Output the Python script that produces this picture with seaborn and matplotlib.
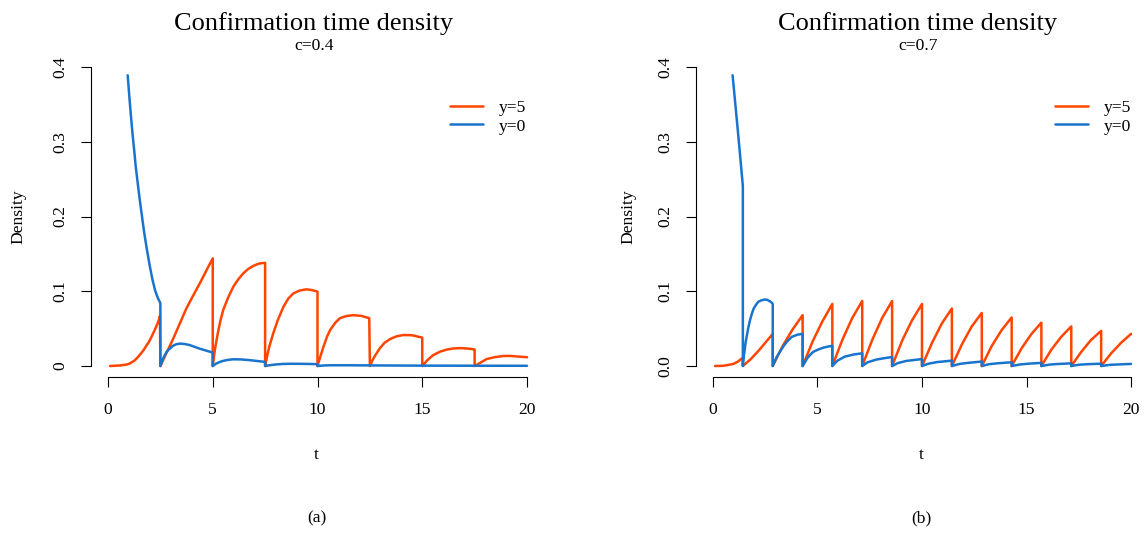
import pandas as pd
import numpy as np
import matplotlib.pyplot as plt
import seaborn as sns

# ---- panel (a), c=0.4 ----
a_y5_t = [0.1, 0.6, 0.9, 1.05, 1.25, 1.4, 1.55, 1.69, 1.85, 1.95, 2.06, 2.16, 2.26, 2.35, 2.42, 2.48, 2.5,
          2.5, 2.8, 3.12, 3.43, 3.74, 4.06, 4.39, 4.7, 5.0, 5.0,
          5.0, 5.06, 5.12, 5.25, 5.37, 5.5, 5.74, 5.98, 6.22, 6.46, 6.7, 6.94, 7.2, 7.45, 7.5, 7.5,
          7.5, 7.6, 7.7, 7.89, 8.1, 8.37, 8.6, 8.84, 9.15, 9.48, 9.75, 10.0, 10.0,
          10.0, 10.15, 10.3, 10.45, 10.6, 10.85, 11.07, 11.4, 11.71, 12.1, 12.47, 12.5,
          12.5, 12.63, 12.75, 12.98, 13.2, 13.46, 13.75, 14.1, 14.5, 14.92, 15.0, 15.0,
          15.0, 15.25, 15.53, 15.85, 16.17, 16.5, 16.8, 17.1, 17.43, 17.5, 17.5,
          17.5, 17.75, 18.07, 18.45, 18.87, 19.2, 19.5, 20.0]
a_y5_d = [0.0, 0.0008, 0.002, 0.0035, 0.007, 0.011, 0.016, 0.021, 0.028, 0.032, 0.038, 0.044, 0.050, 0.056, 0.061, 0.067, 0.0,
          0.0, 0.018, 0.037, 0.057, 0.077, 0.094, 0.111, 0.128, 0.144, 0.0,
          0.0, 0.013, 0.025, 0.045, 0.061, 0.075, 0.092, 0.106, 0.116, 0.124, 0.130, 0.134, 0.137, 0.138, 0.138, 0.0,
          0.0, 0.014, 0.026, 0.044, 0.061, 0.079, 0.090, 0.097, 0.101, 0.1026, 0.1015, 0.0995, 0.0,
          0.0, 0.014, 0.027, 0.039, 0.048, 0.058, 0.064, 0.067, 0.068, 0.067, 0.064, 0.0,
          0.0, 0.008, 0.014, 0.024, 0.031, 0.036, 0.0395, 0.0415, 0.0412, 0.0385, 0.038, 0.0,
          0.0, 0.008, 0.0147, 0.0192, 0.022, 0.0235, 0.024, 0.0235, 0.0225, 0.022, 0.0,
          0.0, 0.004, 0.0093, 0.0118, 0.0134, 0.0135, 0.0128, 0.0118]

a_y0_t = [0.94, 1.02, 1.1, 1.18, 1.25, 1.32, 1.4, 1.5, 1.6, 1.72, 1.85, 2.0, 2.12, 2.25, 2.38, 2.5, 2.5,
          2.5, 2.6, 2.7, 2.8, 2.9, 3.1, 3.25, 3.44, 3.65, 3.9, 4.15, 4.4, 4.7, 5.0, 5.0,
          5.0, 5.15, 5.3, 5.45, 5.6, 5.8, 6.0, 6.35, 6.7, 7.1, 7.5, 7.5,
          7.5, 7.75, 8.0, 8.3, 8.7, 9.3, 10.0, 10.0,
          10.0, 10.3, 10.6, 11.5, 12.5, 15.0, 17.5, 20.0]
a_y0_d = [0.389, 0.36, 0.333, 0.308, 0.289, 0.268, 0.249, 0.226, 0.205, 0.18, 0.157, 0.133, 0.116, 0.101, 0.091, 0.084, 0.0,
          0.0, 0.008, 0.014, 0.019, 0.022, 0.027, 0.029, 0.030, 0.0295, 0.028, 0.0255, 0.023, 0.0205, 0.018, 0.0,
          0.0, 0.003, 0.005, 0.0065, 0.0075, 0.0085, 0.009, 0.0088, 0.008, 0.0068, 0.0055, 0.0,
          0.0, 0.0012, 0.002, 0.0027, 0.003, 0.0029, 0.0025, 0.0,
          0.0, 0.0007, 0.001, 0.001, 0.0008, 0.0005, 0.0004, 0.0003]

# ---- panel (b), c=0.7 ----
b_y5_t = [0.1, 0.5, 0.97, 1.2, 1.42, 1.43,
          1.43, 1.8, 2.2, 2.5, 2.86, 2.86,
          2.86, 3.34, 3.81, 4.29, 4.29,
          4.29, 4.77, 5.24, 5.71, 5.71,
          5.71, 6.19, 6.66, 7.14, 7.14,
          7.14, 7.62, 8.09, 8.57, 8.57,
          8.57, 9.05, 9.52, 10.0, 10.0,
          10.0, 10.48, 10.95, 11.43, 11.43,
          11.43, 11.91, 12.38, 12.86, 12.86,
          12.86, 13.34, 13.81, 14.29, 14.29,
          14.29, 14.77, 15.24, 15.71, 15.71,
          15.71, 16.19, 16.66, 17.14, 17.14,
          17.14, 17.62, 18.09, 18.57, 18.57,
          18.57, 19.05, 19.52, 20.0]
b_y5_d = [0.0, 0.0003, 0.0027, 0.006, 0.011, 0.0,
          0.0, 0.009, 0.021, 0.031, 0.043, 0.0,
          0.0, 0.027, 0.049, 0.068, 0.0,
          0.0, 0.033, 0.060, 0.083, 0.0,
          0.0, 0.035, 0.064, 0.087, 0.0,
          0.0, 0.035, 0.064, 0.087, 0.0,
          0.0, 0.034, 0.061, 0.083, 0.0,
          0.0, 0.031, 0.057, 0.077, 0.0,
          0.0, 0.029, 0.053, 0.071, 0.0,
          0.0, 0.027, 0.048, 0.065, 0.0,
          0.0, 0.024, 0.043, 0.058, 0.0,
          0.0, 0.022, 0.039, 0.053, 0.0,
          0.0, 0.019, 0.035, 0.047, 0.0,
          0.0, 0.017, 0.031, 0.043]

b_y0_t = [0.94, 1.2, 1.43, 1.43,
          1.43, 1.47, 1.52, 1.56, 1.61, 1.69, 1.77, 1.86, 1.95, 2.06, 2.17, 2.33, 2.49, 2.6, 2.7, 2.8, 2.86, 2.86,
          2.86, 2.95, 3.05, 3.2, 3.36, 3.55, 3.77, 4.05, 4.29, 4.29,
          4.29, 4.4, 4.5, 4.65, 4.8, 5.03, 5.28, 5.5, 5.71, 5.71,
          5.71, 5.95, 6.3, 6.75, 7.14, 7.14,
          7.14, 7.4, 7.8, 8.2, 8.57, 8.57,
          8.57, 8.85, 9.25, 10.0, 10.0,
          10.0, 10.3, 10.7, 11.43, 11.43,
          11.43, 11.8, 12.2, 12.86, 12.86,
          12.86, 13.2, 13.6, 14.29, 14.29,
          14.29, 14.7, 15.1, 15.71, 15.71,
          15.71, 16.1, 16.5, 17.14, 17.14,
          17.14, 17.5, 17.9, 18.57, 18.57,
          18.57, 19.0, 19.4, 20.0]
b_y0_d = [0.389, 0.312, 0.241, 0.0,
          0.0, 0.012, 0.022, 0.031, 0.039, 0.051, 0.061, 0.070, 0.077, 0.082, 0.086, 0.088, 0.089, 0.0885, 0.087, 0.085, 0.083, 0.0,
          0.0, 0.006, 0.012, 0.019, 0.026, 0.033, 0.039, 0.042, 0.043, 0.0,
          0.0, 0.005, 0.010, 0.015, 0.019, 0.022, 0.0245, 0.026, 0.027, 0.0,
          0.0, 0.007, 0.0125, 0.0155, 0.017, 0.0,
          0.0, 0.005, 0.0085, 0.0105, 0.012, 0.0,
          0.0, 0.004, 0.0068, 0.0093, 0.0,
          0.0, 0.003, 0.0052, 0.0072, 0.0,
          0.0, 0.0028, 0.0042, 0.006, 0.0,
          0.0, 0.0024, 0.0036, 0.005, 0.0,
          0.0, 0.0021, 0.0031, 0.0042, 0.0,
          0.0, 0.0019, 0.0027, 0.0036, 0.0,
          0.0, 0.0017, 0.0024, 0.0031, 0.0,
          0.0, 0.0016, 0.0021, 0.0028]

labels_c = ["c=0.4", "c=0.7"]
panel_tags = ["(a)", "(b)"]
ytick_labels = [["0", "0.1", "0.2", "0.3", "0.4"],
                ["0.0", "0.1", "0.2", "0.3", "0.4"]]


def make_df(t5, d5, t0, d0):
    df5 = pd.DataFrame({"t": t5, "Density": d5, "series": "y=5"})
    df0 = pd.DataFrame({"t": t0, "Density": d0, "series": "y=0"})
    return pd.concat([df5, df0], ignore_index=True)


sns.set_theme(style="white")
plt.rcParams["font.family"] = ["Liberation Serif", "DejaVu Serif"]
plt.rcParams["text.color"] = "black"
plt.rcParams["xtick.color"] = "black"
plt.rcParams["ytick.color"] = "black"

W, H = 1144, 534
fig = plt.figure(figsize=(W / 100, H / 100), dpi=100)

palette = {"y=5": "#FF4500", "y=0": "#1874CD"}
dfs = [make_df(a_y5_t, a_y5_d, a_y0_t, a_y0_d),
       make_df(b_y5_t, b_y5_d, b_y0_t, b_y0_d)]

# axes pixel boxes: left, top, right, bottom
boxes = [(91, 63.3, 544, 377), (696, 63.3, 1148, 377)]
title_x = [314, 918]
label_x = [316, 921]
dens_x = [18, 628]
legend_x = [526.5, 1131.5]

for i, df in enumerate(dfs):
    l, t, r, b = boxes[i]
    ax = fig.add_axes([l / W, 1 - b / H, (r - l) / W, (b - t) / H])
    sns.lineplot(data=df, x="t", y="Density", hue="series",
                 hue_order=["y=5", "y=0"], palette=palette,
                 estimator=None, sort=False, linewidth=1.8, ax=ax)
    ax.set_xlim(-0.811, 20.811)
    ax.set_ylim(-0.0147, 0.405)
    for s in ["top", "right"]:
        ax.spines[s].set_visible(False)
    for s in ["left", "bottom"]:
        ax.spines[s].set_color("black")
        ax.spines[s].set_linewidth(0.8)
    ax.spines["left"].set_bounds(0, 0.4)
    ax.spines["bottom"].set_bounds(0, 20)
    ax.set_xticks([0, 5, 10, 15, 20])
    ax.set_yticks([0, 0.1, 0.2, 0.3, 0.4])
    ax.set_yticklabels(ytick_labels[i])
    ax.tick_params(axis="both", direction="out", length=7.2, width=0.8,
                   color="black", labelsize=12.6, bottom=True, left=True)
    ax.tick_params(axis="x", pad=11)
    ax.tick_params(axis="y", pad=9, labelrotation=90)
    for lab in ax.get_yticklabels():
        lab.set_va("center")
    ax.set_xlabel("")
    ax.set_ylabel("")

    sns.move_legend(ax, "upper right",
                    bbox_to_anchor=((legend_x[i] - l) / (r - l), 0.885),
                    frameon=False, title=None, fontsize=12.6,
                    handlelength=1.9, handletextpad=0.9, labelspacing=0.15,
                    borderpad=0, borderaxespad=0)

    fig.text(title_x[i] / W, 1 - 30 / H, "Confirmation time density",
             ha="center", va="baseline", fontsize=19)
    fig.text(title_x[i] / W, 1 - 49.5 / H, labels_c[i],
             ha="center", va="baseline", fontsize=12.6)
    fig.text(label_x[i] / W, 1 - 455 / H, "t", ha="center", va="center", fontsize=12.6)
    fig.text(dens_x[i] / W, 1 - 217 / H, "Density", ha="center", va="center",
             rotation=90, fontsize=12.6)
    fig.text((title_x[i] + 3) / W, 1 - 518 / H, panel_tags[i],
             ha="center", va="center", fontsize=12.6)

fig.savefig("out.png", dpi=100)
